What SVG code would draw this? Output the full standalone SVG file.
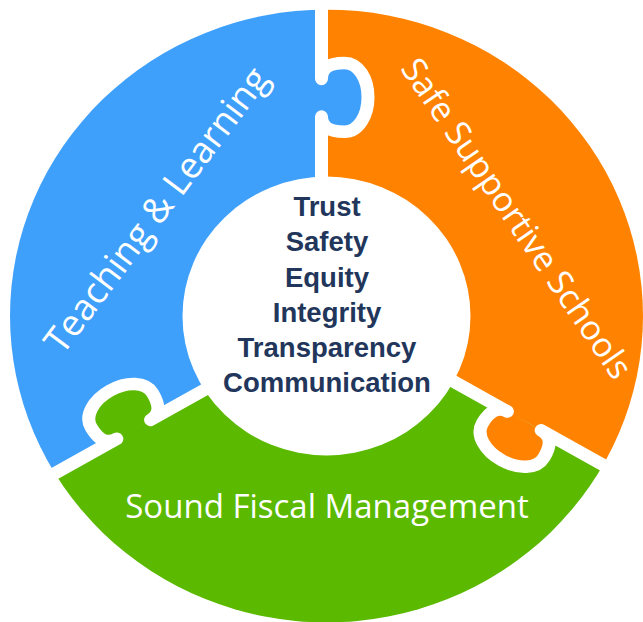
<svg xmlns="http://www.w3.org/2000/svg" xmlns:xlink="http://www.w3.org/1999/xlink" width="643" height="622" viewBox="0 0 643 622">
<style>
.sep{fill:none;stroke:#fff;stroke-width:13;stroke-linejoin:round}
.lbl{font-family:"Open Sans","Liberation Sans",sans-serif;font-weight:400;font-size:33px;fill:#fff;text-anchor:middle}
.core{font-family:"Liberation Sans",Arial,sans-serif;font-weight:700;font-size:27.5px;fill:#22365c;text-anchor:middle}
.piece{fill-rule:evenodd}
</style>
<defs>
<clipPath id="ring"><circle cx="0" cy="0" r="316.5"/></clipPath>
<path id="sep" d="M -5,-420 L -5,-245 C -5,-256 2,-261.4 18,-261.4 C 32,-261.4 41.5,-245 41.5,-226 C 41.5,-207 32,-190.4 18,-190.4 C 2,-190.4 -5,-196 -5,-206 L -5,-100"/>
</defs>

<g id="teaching-learning">
<g transform="translate(326.5,316) scale(1,0.968)" clip-path="url(#ring)">
<path class="piece" fill="#3fa0fb" d="M -517.1,304.3 L -869.6,-306.2 L -5,-600 L -5,0 L 2.5,4.33 Z
M -209.68,126.83 C -219.2,132.33 -227.38,128.97 -235.38,115.11 C -242.38,102.99 -232.93,86.56 -216.47,77.06 C -200.02,67.56 -180.89,67.49 -173.89,79.61 C -165.89,93.47 -167.24,102.33 -175.9,107.33 Z
M -5,-245 C -5,-256 2,-261.4 18,-261.4 C 32,-261.4 41.5,-245 41.5,-226 C 41.5,-207 32,-190.4 18,-190.4 C 2,-190.4 -5,-196 -5,-206 Z"/>
</g>
<text class="lbl" style="font-size:36.5px" transform="translate(166.5,217.5) rotate(-53.1)">Teaching &amp; Learning</text>
</g>

<g id="safe-supportive-schools">
<g transform="translate(326.5,316) scale(1,0.968)" clip-path="url(#ring)">
<path class="piece" fill="#ff8300" d="M -5,-600 L 700,-600 L 522.1,295.7 L 2.5,-4.33 L -5,0 Z
M -5,-245 C -5,-256 2,-261.4 18,-261.4 C 32,-261.4 41.5,-245 41.5,-226 C 41.5,-207 32,-190.4 18,-190.4 C 2,-190.4 -5,-196 -5,-206 Z
M 214.68,118.17 C 224.2,123.67 225.38,132.43 217.38,146.29 C 210.38,158.41 191.43,158.44 174.97,148.94 C 158.52,139.44 148.89,122.91 155.89,110.79 C 163.89,96.93 172.24,93.67 180.9,98.67 Z"/>
</g>
<text class="lbl" style="font-size:34px" transform="translate(507,225) rotate(55.6)">Safe Supportive Schools</text>
</g>

<g id="sound-fiscal-management">
<g transform="translate(326.5,316) scale(1,0.968)" clip-path="url(#ring)">
<path class="piece" fill="#5bb900" d="M 522.1,295.7 L 169.6,906.2 L -517.1,304.3 L 2.5,4.33 L 2.5,-4.33 Z
M 214.68,118.17 C 224.2,123.67 225.38,132.43 217.38,146.29 C 210.38,158.41 191.43,158.44 174.97,148.94 C 158.52,139.44 148.89,122.91 155.89,110.79 C 163.89,96.93 172.24,93.67 180.9,98.67 Z
M -209.68,126.83 C -219.2,132.33 -227.38,128.97 -235.38,115.11 C -242.38,102.99 -232.93,86.56 -216.47,77.06 C -200.02,67.56 -180.89,67.49 -173.89,79.61 C -165.89,93.47 -167.24,102.33 -175.9,107.33 Z"/>
</g>
<text class="lbl" x="327" y="517.5">Sound Fiscal Management</text>
</g>

<g id="connectors" transform="translate(326.5,316) scale(1,0.968)">
<use xlink:href="#sep" class="sep"/>
<use xlink:href="#sep" class="sep" transform="rotate(120)"/>
<use xlink:href="#sep" class="sep" transform="rotate(240)"/>
</g>

<g id="core-values">
<ellipse cx="326.5" cy="316" rx="144" ry="139.4" fill="#fff"/>
<text class="core" x="327" y="215.5">Trust</text>
<text class="core" x="327" y="251">Safety</text>
<text class="core" x="327" y="286.5">Equity</text>
<text class="core" x="327" y="321.7">Integrity</text>
<text class="core" x="327" y="357.3">Transparency</text>
<text class="core" x="327" y="392">Communication</text>
</g>
</svg>
